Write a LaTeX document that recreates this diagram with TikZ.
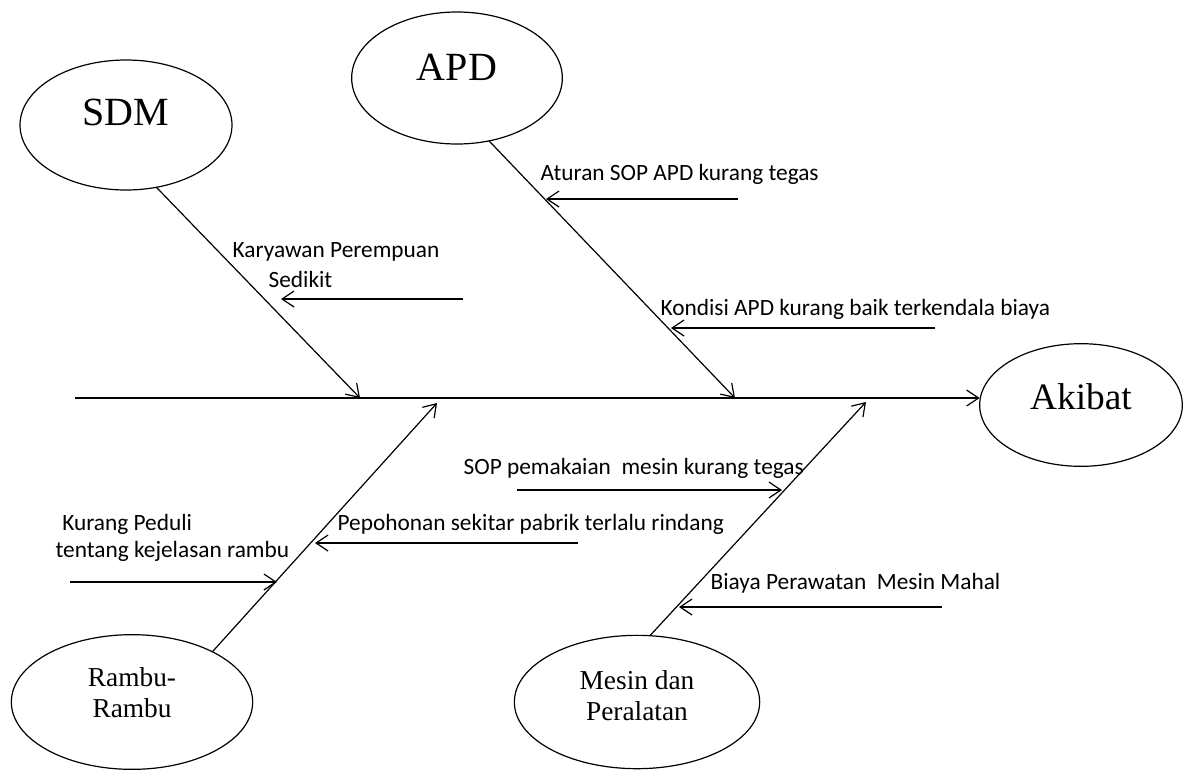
\documentclass[tikz,border=0pt]{standalone}
\usepackage{fontspec}
\setmainfont{Liberation Serif}
\newfontfamily\notefont{Carlito}
\usetikzlibrary{arrows.meta,shapes.geometric}

\begin{document}
\begin{tikzpicture}[x=0.75pt, y=-0.75pt, line width=0.9pt,
	cause/.style={draw, ellipse, inner sep=0pt, outer sep=0pt},
	bigname/.style={font=\fontsize{30}{32}\selectfont},
	twoline/.style={font=\fontsize{20.5}{23}\selectfont, align=center},
	note/.style={anchor=base west, inner sep=0pt, align=left, font=\notefont\fontsize{17.5}{22.5}\selectfont},
	>={Straight Barb[length=9pt,width=12pt]}]
				\useasboundingbox (0,0) rectangle (1185,769);
				\node[cause, bigname, minimum width=159pt, minimum height=97.5pt, text depth=19pt] (SDM) at (126,125) {SDM};
				\node[cause, bigname, minimum width=158pt, minimum height=99pt, text depth=16.5pt] (APD) at (457,78) {APD};
				\node[cause, font=\fontsize{28}{30}\selectfont, minimum width=152pt, minimum height=92pt, text depth=12pt] (Akibat) at (1081,405) {Akibat};
				\node[cause, twoline, minimum width=181pt, minimum height=101pt, text depth=14pt] (Rambu) at (132,702) {Rambu-\\Rambu};
				\node[cause, twoline, minimum width=184pt, minimum height=100pt, text depth=10pt] (Mesin) at (637,702) {Mesin dan\\Peralatan};
				\coordinate (spine) at (75,398);
				\coordinate (sdmTip) at (360,398);
				\coordinate (apdTip) at (735,398);
				\coordinate (rambuTip) at (437,403);
				\coordinate (mesinTip) at (866,402);
				\draw[->] (spine) -- (spine -| Akibat.west);
				\draw[->] (SDM.-64) -- (sdmTip);
				\draw[->] (APD.-63) -- (apdTip);
				\draw[->] (Rambu.32) -- (rambuTip);
				\draw[->] (Mesin.79) -- (mesinTip);
				% sebab-sebab kecil
				\coordinate (karyA) at (463,299); \coordinate (karyB) at (281,299);
				\coordinate (aturA) at (738,199); \coordinate (aturB) at (546,199);
				\coordinate (kondA) at (935,328); \coordinate (kondB) at (671,328);
				\coordinate (sopA) at (517,490); \coordinate (sopB) at (782,490);
				\coordinate (pohonA) at (578,543); \coordinate (pohonB) at (315,543);
				\coordinate (pedulA) at (70,582); \coordinate (pedulB) at (277,582);
				\coordinate (biayaA) at (942,607); \coordinate (biayaB) at (679,607);
				\draw[->] (karyA) -- (karyB);
				\draw[->] (aturA) -- (aturB);
				\draw[->] (kondA) -- (kondB);
				\draw[->] (sopA) -- (sopB);
				\draw[->] (pohonA) -- (pohonB);
				\draw[->] (pedulA) -- (pedulB);
				\draw[->] (biayaA) -- (biayaB);
				\node[note] (kary) at (232,287) {Karyawan Perempuan\\\hspace*{27pt}Sedikit};
				\node[note] (atur) at (540,180) {Aturan SOP APD kurang tegas};
				\node[note] (kond) at (660,315) {Kondisi APD kurang baik terkendala biaya};
				\node[note] (sop) at (463,474) {SOP pemakaian\ \ mesin kurang tegas};
				\node[note] (pohon) at (337,530) {Pepohonan sekitar pabrik terlalu rindang};
				\node[note, font=\notefont\fontsize{17.5}{20}\selectfont] (pedul) at (55,557) {\hspace*{5pt}Kurang Peduli\\tentang kejelasan rambu};
				\node[note] (biaya) at (710,589) {Biaya Perawatan\ \ Mesin Mahal};
			\end{tikzpicture}
\end{document}
